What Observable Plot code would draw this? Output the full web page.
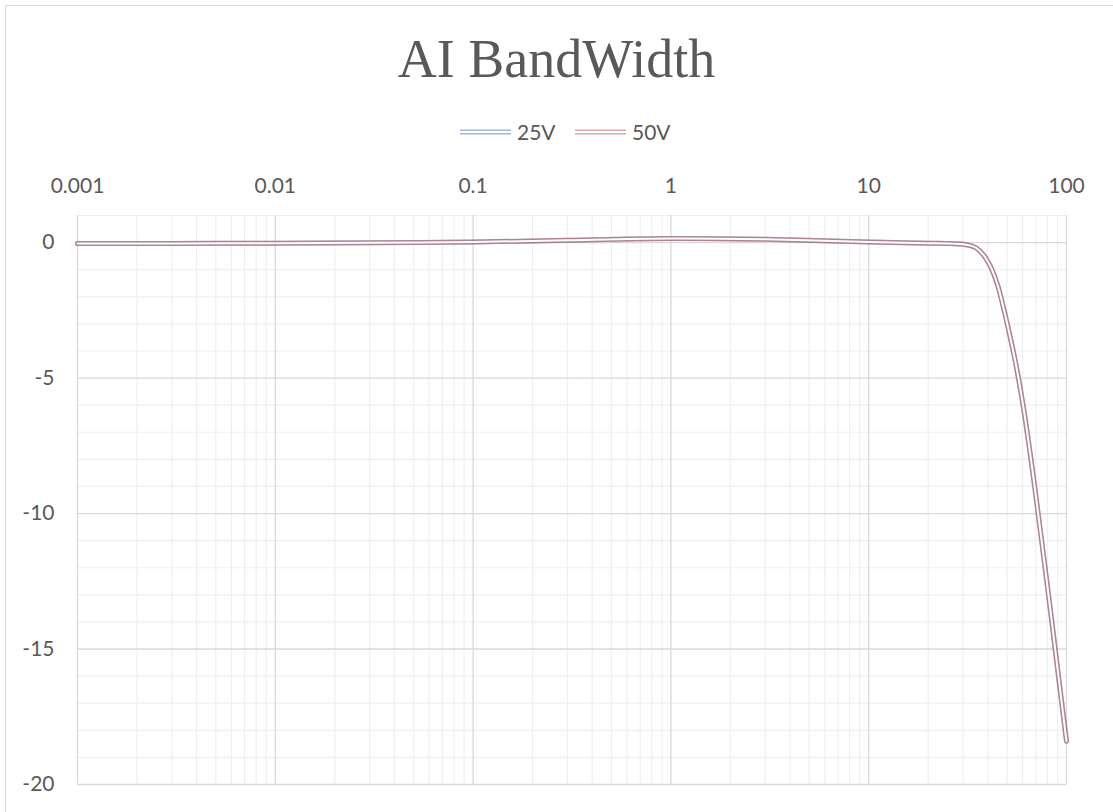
<!DOCTYPE html>
<html>
<head>
<meta charset="utf-8">
<script src="https://cdn.jsdelivr.net/npm/d3@7"></script>
<script src="https://cdn.jsdelivr.net/npm/@observablehq/plot@0.6"></script>
<style>
  html, body { margin: 0; padding: 0; background: #fff; }
  #wrap { position: relative; width: 1113px; height: 812px; overflow: hidden; }
  #frame { position: absolute; left: 5px; top: 5px; width: 1120px; height: 820px; border: 1.5px solid #d9d9d9; box-sizing: border-box; }
  #title { position: absolute; left: 0; width: 1113px; top: 33px; text-align: center;
           font-family: "Liberation Serif", serif; font-size: 54px; line-height: 53px; color: #595959; }
  #legend { position: absolute; left: 0; width: 1113px; top: 119px; height: 26px;
            font-family: Lato, sans-serif; font-size: 21px; color: #595959; }
  .item { position: absolute; top: 0; line-height: 26px; }
  .item svg { position: absolute; top: 0; }
  #chart { position: absolute; left: 0; top: 160px; }
</style>
</head>
<body>
<div id="wrap">
  <div id="frame"></div>
  <div id="title">AI BandWidth</div>
  <div id="legend"></div>
  <div id="chart"></div>
</div>
<script>
// ---- data ----
const freq     = [0.001, 0.003, 0.01, 0.03, 0.1, 0.3, 1, 3, 10, 20, 25, 30, 33, 35, 38, 40, 42, 45, 48, 50, 55, 60, 65, 70, 75, 80, 85, 90, 95, 100];
const gain25V  = [-0.03, -0.03, -0.02, -0.01, 0.02, 0.09, 0.15, 0.12, 0.02, -0.02, -0.03, -0.06, -0.12, -0.2, -0.45, -0.7, -1.0, -1.6, -2.4, -2.95, -4.35, -5.9, -7.6, -9.35, -11.05, -12.65, -14.2, -15.7, -17.1, -18.4];
const gain50V  = [-0.03, -0.03, -0.02, -0.01, 0.02, 0.09, 0.15, 0.12, 0.02, -0.02, -0.03, -0.06, -0.12, -0.2, -0.45, -0.7, -1.0, -1.6, -2.4, -2.95, -4.35, -5.9, -7.6, -9.35, -11.05, -12.65, -14.2, -15.7, -17.1, -18.4];
const seriesNames = ["25V", "50V"];
const seriesColors = ["#4472c4", "#c0504d"];
const xTicks = [0.001, 0.01, 0.1, 1, 10, 100];
const xTickLabels = ["0.001", "0.01", "0.1", "1", "10", "100"];
const yTicks = [0, -5, -10, -15, -20];
const yTickLabels = ["0", "-5", "-10", "-15", "-20"];

const data = [];
freq.forEach((f, i) => {
  data.push({f, g: gain25V[i], s: "25V"});
  data.push({f, g: gain50V[i], s: "50V"});
});

// minor gridlines (styling only)
const xMinor = [];
for (let k = 0; k < xTicks.length - 1; k++) for (let m = 2; m <= 9; m++) xMinor.push(xTicks[k] * m);
const yMinor = d3.range(-20, 2, 1).filter(v => !yTicks.includes(v));

const W = 1113, H = 652;
const chart = Plot.plot({
  width: W, height: H,
  marginLeft: 77, marginRight: 47, marginTop: 55, marginBottom: 28,
  style: {fontFamily: "Lato, sans-serif", fontSize: "21px", color: "#595959", background: "transparent"},
  x: {type: "log", domain: [0.001, 100], axis: null},
  y: {domain: [-20, 1], axis: null},
  marks: [
    Plot.ruleX(xMinor, {stroke: "#efefef", strokeWidth: 1.2}),
    Plot.ruleY(yMinor, {stroke: "#efefef", strokeWidth: 1.2}),
    Plot.ruleX(xTicks, {stroke: "#d9d9d9", strokeWidth: 1.3}),
    Plot.ruleY(yTicks, {stroke: "#d9d9d9", strokeWidth: 1.3}),
    Plot.axisX({anchor: "top", ticks: xTicks, tickFormat: d => xTickLabels[xTicks.indexOf(d)], tickSize: 0, tickPadding: 23, label: null, fill: "#595959"}),
    Plot.axisY({anchor: "left", ticks: yTicks, tickFormat: d => yTickLabels[yTicks.indexOf(d)], tickSize: 0, tickPadding: 23, label: null, fill: "#595959"}),
    Plot.line(data.filter(d => d.s === "25V"), {x: "f", y: "g", stroke: seriesColors[0], strokeOpacity: 0.5, strokeWidth: 5, curve: "catmull-rom"}),
    Plot.line(data.filter(d => d.s === "50V"), {x: "f", y: "g", stroke: seriesColors[1], strokeOpacity: 0.5, strokeWidth: 5, curve: "catmull-rom"}),
    Plot.line(data.filter(d => d.s === "50V"), {x: "f", y: "g", stroke: "#ffffff", strokeWidth: 2, curve: "catmull-rom"})
  ]
});
document.getElementById("chart").appendChild(chart);

// legend
const legend = document.getElementById("legend");
const legendPos = [460, 575];
seriesNames.forEach((name, i) => {
  const it = document.createElement("div");
  it.className = "item";
  it.style.left = legendPos[i] + "px";
  it.innerHTML = `<svg width="52" height="26" style="left:0"><line x1="0" x2="51" y1="13" y2="13" stroke="${seriesColors[i]}" stroke-opacity="0.5" stroke-width="5"/><line x1="0" x2="51" y1="13" y2="13" stroke="#fff" stroke-width="2"/></svg><span style="position:absolute;left:57px;white-space:nowrap">${name}</span>`;
  legend.appendChild(it);
});
</script>
</body>
</html>
